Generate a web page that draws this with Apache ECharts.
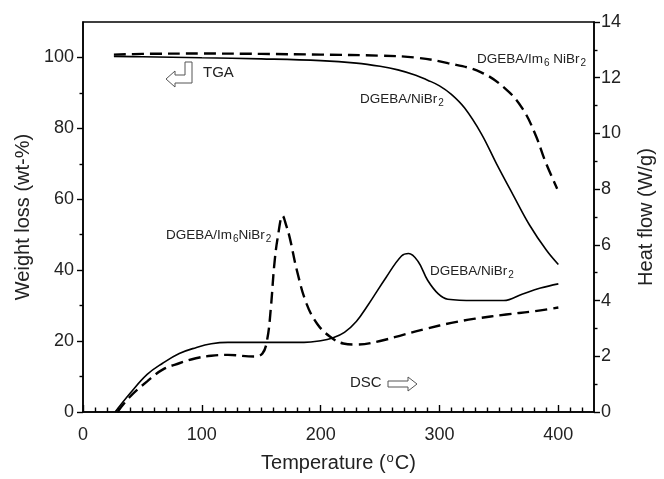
<!DOCTYPE html>
<html>
<head>
<meta charset="utf-8">
<script src="https://cdn.jsdelivr.net/npm/echarts@6/dist/echarts.min.js"></script>
<style>
  html, body { margin: 0; padding: 0; background: #fff; }
  #chart { width: 664px; height: 479px; }
</style>
</head>
<body>
<div id="chart"></div>
<script>
// TGA: weight loss (wt-%) versus temperature (°C)
const tgaNiTemp = [26, 50, 100, 150, 200, 230, 250, 265, 280, 290, 300, 310, 321, 335, 348, 362, 376, 390, 400];
const tgaNiWeight = [100.3, 100.2, 99.9, 99.6, 99.1, 98.4, 97.5, 96.5, 95.0, 93.6, 92.0, 89.6, 85.8, 78.6, 70.0, 61.2, 52.6, 45.6, 41.6];
const tgaImTemp = [26, 50, 100, 150, 200, 250, 279, 307, 335, 356, 370, 381, 389, 399];
const tgaImWeight = [100.8, 101.0, 101.1, 101.0, 100.8, 100.5, 100.0, 98.4, 95.8, 91.0, 85.5, 78.0, 70.7, 63.0];

// DSC: heat flow (W/g) versus temperature (°C)
const dscNiTemp = [27, 40, 54, 67, 81, 95, 108, 122, 150, 186, 200, 210, 220, 230, 240, 255, 268, 274, 282, 290, 299, 307, 329, 354, 370, 385, 400];
const dscNiFlow = [0, 0.69, 1.35, 1.75, 2.1, 2.31, 2.45, 2.5, 2.5, 2.5, 2.56, 2.66, 2.86, 3.25, 3.85, 4.83, 5.6, 5.69, 5.4, 4.73, 4.24, 4.05, 4.0, 4.0, 4.24, 4.45, 4.6];
const dscImTemp = [29, 40, 54, 67, 81, 95, 108, 122, 144, 151, 155, 158, 161, 164, 168, 171, 174, 180, 188, 197, 208, 219, 230, 250, 270, 290, 310, 330, 356, 380, 400];
const dscImFlow = [0, 0.57, 1.1, 1.52, 1.75, 1.93, 2.02, 2.05, 1.99, 2.1, 2.6, 3.7, 5.3, 6.3, 7.04, 6.7, 6.25, 5.08, 3.9, 3.17, 2.7, 2.46, 2.42, 2.55, 2.78, 3.0, 3.2, 3.35, 3.5, 3.62, 3.75];

// Tick positions
const tempMajorTicks = [0, 100, 200, 300, 400];
const tempMinorTicks = [10, 20, 30, 40, 50, 60, 70, 80, 90, 110, 120, 130, 140, 150, 160, 170, 180, 190, 210, 220, 230, 240, 250, 260, 270, 280, 290, 310, 320, 330, 340, 350, 360, 370, 380, 390, 410, 420];
const weightMajorTicks = [0, 20, 40, 60, 80, 100];
const weightMinorTicks = [10, 30, 50, 70, 90];
const flowMajorTicks = [0, 2, 4, 6, 8, 10, 12, 14];
const flowMinorTicks = [1, 3, 5, 7, 9, 11, 13];

const FONT = 'Liberation Sans, Arial, sans-serif';
const INK = '#000';
const TXT = '#222';

const pairs = (xs, ys) => xs.map((x, i) => [x, ys[i]]);

const chart = echarts.init(document.getElementById('chart'), null, { renderer: 'canvas' });

const tickLine = { color: INK, width: 1.4 };

function subLabel(parts) {
  // parts: array of [text, isSub]
  return parts.map(p => p[1] ? '{s|' + p[0] + '}' : '{a|' + p[0] + '}').join('');
}
const labelRich = {
  a: { fontSize: 13.5, fontFamily: FONT, fill: TXT, lineHeight: 16 },
  s: { fontSize: 10, fontFamily: FONT, fill: TXT, lineHeight: 16, padding: [7, 0, 0, 1] }
};

function textEl(x, y, parts) {
  return {
    type: 'text', left: x, top: y, z: 10,
    style: { text: subLabel(parts), rich: labelRich, fill: TXT, font: '13.5px ' + FONT }
  };
}

function curve(name, xs, ys, yIndex, dashed) {
  return {
    name: name, type: 'line', xAxisIndex: 0, yAxisIndex: yIndex,
    data: pairs(xs, ys), showSymbol: false, smooth: 0.4,
    lineStyle: dashed ? { color: INK, width: 2.4, type: [12, 6] } : { color: INK, width: 1.6 }
  };
}

// An extra axis that only draws the short minor ticks on the same side
function minorAxis(kind, min, max, position, ticks, len) {
  return {
    type: 'value', min: min, max: max, position: position,
    axisLine: { show: false, onZero: false },
    axisTick: { show: true, inside: kind === 'x', length: len, customValues: ticks, lineStyle: tickLine },
    axisLabel: { show: false },
    splitLine: { show: false }
  };
}

chart.setOption({
  animation: false,
  backgroundColor: '#fff',
  grid: { left: 83, right: 62, top: 22, bottom: 63, show: true, borderColor: INK, borderWidth: 1.5 },
  xAxis: [
    {
      type: 'value', min: 0, max: 430, position: 'bottom',
      name: '{t|Temperature (}{u|o}{t|C)}',
      nameLocation: 'middle', nameGap: 40,
      nameTextStyle: {
        rich: {
          t: { fontSize: 20, fontFamily: FONT, color: TXT, lineHeight: 22 },
          u: { fontSize: 13, fontFamily: FONT, color: TXT, lineHeight: 22, padding: [0, 1, 9, 1] }
        }
      },
      axisLine: { show: true, onZero: false, lineStyle: { color: INK, width: 1.5 } },
      axisTick: { show: true, inside: true, length: 7, customValues: tempMajorTicks, lineStyle: tickLine },
      axisLabel: { customValues: tempMajorTicks, margin: 14, fontSize: 18, fontFamily: FONT, color: TXT },
      splitLine: { show: false }
    },
    minorAxis('x', 0, 430, 'bottom', tempMinorTicks, 4.5)
  ],
  yAxis: [
    {
      type: 'value', min: 0, max: 110, position: 'left',
      name: 'Weight loss (wt-%)', nameLocation: 'middle', nameGap: 48,
      nameTextStyle: { fontSize: 20, fontFamily: FONT, color: TXT },
      axisLine: { show: true, onZero: false, lineStyle: { color: INK, width: 1.5 } },
      axisTick: { show: true, inside: false, length: 6, customValues: weightMajorTicks, lineStyle: tickLine },
      axisLabel: { customValues: weightMajorTicks, margin: 9, fontSize: 18, fontFamily: FONT, color: TXT },
      splitLine: { show: false }
    },
    minorAxis('y', 0, 110, 'left', weightMinorTicks, 3.5),
    {
      type: 'value', min: 0, max: 14, position: 'right',
      name: 'Heat flow (W/g)', nameLocation: 'middle', nameGap: 42,
      nameRotate: 90,
      nameTextStyle: { fontSize: 20, fontFamily: FONT, color: TXT },
      axisLine: { show: true, onZero: false, lineStyle: { color: INK, width: 1.5 } },
      axisTick: { show: true, inside: false, length: 6, customValues: flowMajorTicks, lineStyle: tickLine },
      axisLabel: { customValues: flowMajorTicks, margin: 7, fontSize: 18, fontFamily: FONT, color: TXT },
      splitLine: { show: false }
    },
    minorAxis('y', 0, 14, 'right', flowMinorTicks, 3.5)
  ],
  series: [
    curve('TGA DGEBA/NiBr2', tgaNiTemp, tgaNiWeight, 0, false),
    curve('TGA DGEBA/Im6 NiBr2', tgaImTemp, tgaImWeight, 0, true),
    curve('DSC DGEBA/NiBr2', dscNiTemp, dscNiFlow, 2, false),
    curve('DSC DGEBA/Im6 NiBr2', dscImTemp, dscImFlow, 2, true)
  ],
  graphic: [
    textEl(477, 51, [['DGEBA/Im', false], ['6', true], [' NiBr', false], ['2', true]]),
    textEl(360, 91, [['DGEBA/NiBr', false], ['2', true]]),
    textEl(166, 227, [['DGEBA/Im', false], ['6', true], ['NiBr', false], ['2', true]]),
    textEl(430, 263, [['DGEBA/NiBr', false], ['2', true]]),
    { type: 'text', left: 203, top: 65, style: { text: 'TGA', font: '15px ' + FONT, fill: TXT } },
    { type: 'text', left: 350, top: 375, style: { text: 'DSC', font: '15px ' + FONT, fill: TXT } },
    {
      type: 'polygon', z: 10,
      shape: { points: [[166, 79], [175, 71], [175, 75], [185, 75], [185, 62], [192, 62], [192, 83], [175, 83], [175, 87]] },
      style: { fill: 'none', stroke: '#555', lineWidth: 1 }
    },
    {
      type: 'polygon', z: 10,
      shape: { points: [[388, 381], [408, 381], [408, 377], [417, 384], [408, 391], [408, 387], [388, 387]] },
      style: { fill: 'none', stroke: '#555', lineWidth: 1 }
    }
  ]
});
</script>
</body>
</html>
